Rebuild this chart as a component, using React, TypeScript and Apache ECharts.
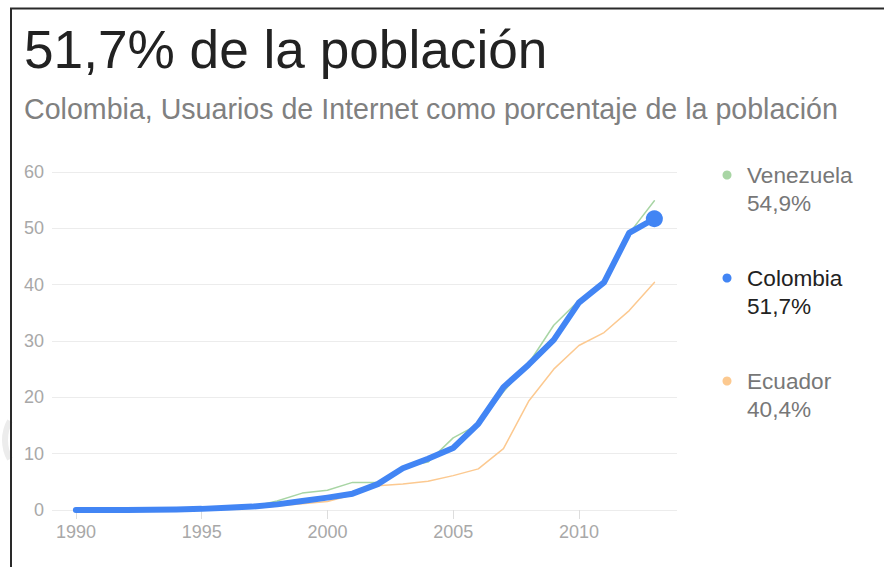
import React, { useEffect, useRef } from "react";
import * as echarts from "echarts";

const years = [1990, 1991, 1992, 1993, 1994, 1995, 1996, 1997, 1998, 1999, 2000, 2001, 2002, 2003, 2004, 2005, 2006, 2007, 2008, 2009, 2010, 2011, 2012, 2013];
const colombia = [0, 0, 0, 0.05, 0.1, 0.2, 0.4, 0.6, 1.0, 1.6, 2.2, 2.9, 4.6, 7.4, 9.1, 11.0, 15.3, 21.8, 25.8, 30.2, 36.8, 40.4, 49.2, 51.7];
const venezuela = [0, 0, 0, 0.04, 0.07, 0.17, 0.3, 0.6, 1.6, 3.0, 3.5, 4.9, 4.9, 7.6, 8.5, 12.8, 15.2, 21.0, 26.0, 32.8, 37.2, 40.2, 49.1, 54.9];
const ecuador = [0, 0, 0, 0, 0.05, 0.1, 0.2, 0.3, 0.7, 1.1, 1.5, 2.7, 4.3, 4.6, 5.1, 6.1, 7.3, 10.9, 19.3, 25.0, 29.2, 31.5, 35.4, 40.4];
const xTicks = [1990, 1995, 2000, 2005, 2010];
const yTicks = [0, 10, 20, 30, 40, 50, 60];
const titleText = "51,7% de la población";
const subtitleText = "Colombia, Usuarios de Internet como porcentaje de la población";

const seriesDefs = [
  { name: "Venezuela", data: venezuela, color: "#a8d5a4", width: 1.5, text: "#777777" },
  { name: "Colombia", data: colombia, color: "#4285f4", width: 6, text: "#222222" },
  { name: "Ecuador", data: ecuador, color: "#fcc990", width: 1.5, text: "#777777" },
];

const fmt = (v: number) => v.toFixed(1).replace(".", ",") + "%";

export default function App() {
  const ref = useRef<HTMLDivElement>(null);
  useEffect(() => {
    if (!ref.current) return;
    const chart = echarts.init(ref.current, null, { renderer: "svg" });
    const font = "Arial, 'Liberation Sans', sans-serif";
    const drawOrder = [seriesDefs[2], seriesDefs[0], seriesDefs[1]];
    const legendGraphics: any[] = [];
    seriesDefs.forEach((s, i) => {
      const cy = 175 + i * 103;
      legendGraphics.push({
        type: "circle",
        shape: { cx: 727, cy, r: 4.5 },
        style: { fill: s.color },
      });
      legendGraphics.push({
        type: "text",
        x: 747,
        y: cy,
        style: { text: s.name, fill: s.text, font: `22.6px ${font}`, textVerticalAlign: "middle" },
      });
      legendGraphics.push({
        type: "text",
        x: 747,
        y: cy + 28,
        style: { text: fmt(s.data[s.data.length - 1]), fill: s.text, font: `22.6px ${font}`, textVerticalAlign: "middle" },
      });
    });
    chart.setOption({
      animation: false,
      backgroundColor: "#ffffff",
      title: [
        { text: titleText, left: 24, top: 23, padding: 0, textStyle: { fontSize: 53.2, fontWeight: "normal", color: "#222222", fontFamily: font } },
        { text: subtitleText, left: 24, top: 94, padding: 0, textStyle: { fontSize: 28.6, fontWeight: "normal", color: "#808080", fontFamily: font } },
      ],
      grid: { left: 52, right: 207, top: 172, bottom: 57 },
      xAxis: {
        type: "value",
        min: 1989.05,
        max: 2013.9,
        axisLine: { show: false },
        splitLine: { show: false },
        axisTick: { show: true, length: 9, lineStyle: { color: "#dddddd" }, customValues: xTicks },
        axisLabel: { customValues: xTicks, formatter: (v: number) => String(v), color: "#a8a8a8", fontSize: 18, margin: 13, fontFamily: font },
      },
      yAxis: {
        type: "value",
        min: 0,
        max: 60,
        interval: 10,
        axisLine: { show: false },
        axisTick: { show: false },
        splitLine: { lineStyle: { color: "#ececec", width: 1 } },
        axisLabel: { color: "#a8a8a8", fontSize: 18, margin: 8, fontFamily: font, customValues: yTicks },
      },
      series: drawOrder.map((s) => ({
        name: s.name,
        type: "line",
        data: years.map((y, i) => [y, s.data[i]]),
        symbol: "circle",
        showSymbol: s.name === "Colombia",
        symbolSize: (_v: any, p: any) => (s.name === "Colombia" && p.dataIndex === years.length - 1 ? 17 : 0),
        itemStyle: { color: s.color },
        lineStyle: { color: s.color, width: s.width, join: "round", cap: "round" },
        silent: true,
      })),
      graphic: [
        {
          type: "arc",
          shape: { cx: 45, cy: 440, r: 40, startAngle: Math.PI - 0.5, endAngle: Math.PI + 0.5 },
          style: { stroke: "#ececec", lineWidth: 6, fill: "none" },
        },
        { type: "line", shape: { x1: 10, y1: 8.5, x2: 884, y2: 8.5 }, style: { stroke: "#2a2a2a", lineWidth: 2 } },
        { type: "line", shape: { x1: 11, y1: 8, x2: 11, y2: 567 }, style: { stroke: "#2a2a2a", lineWidth: 2 } },
        ...legendGraphics,
      ],
    });
    return () => chart.dispose();
  }, []);
  return <div ref={ref} style={{ position: "fixed", left: 0, top: 0, width: 884, height: 567 }} />;
}
